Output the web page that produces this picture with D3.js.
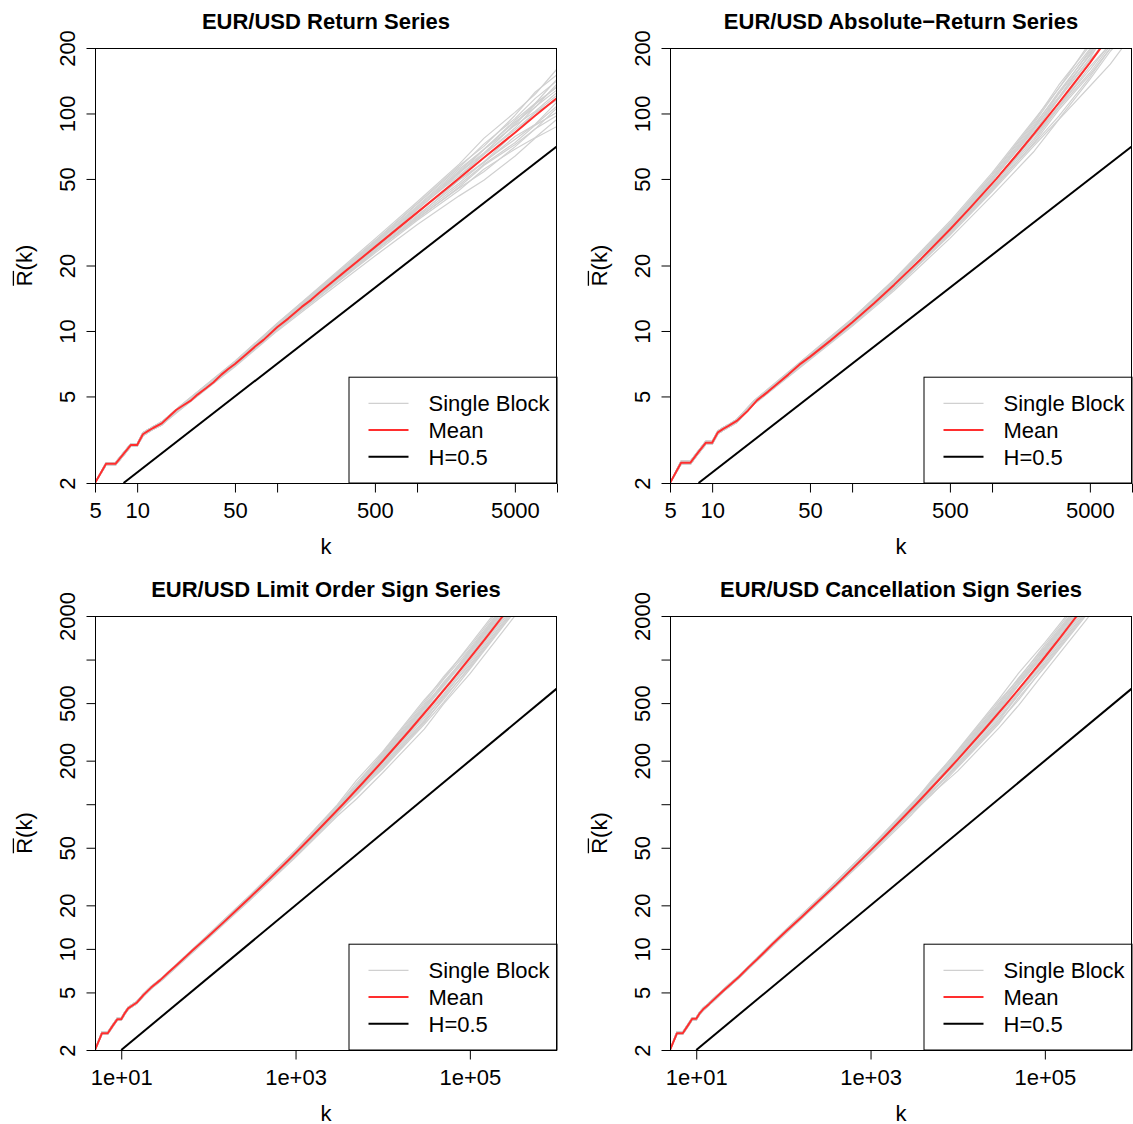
<!DOCTYPE html>
<html>
<head>
<meta charset="utf-8">
<script src="https://cdn.jsdelivr.net/npm/d3@7"></script>
<style>
  body { margin: 0; background: #fff; }
  svg text { font-family: "Liberation Sans", Arial, Helvetica, sans-serif; }
</style>
</head>
<body>
<svg id="chart" width="1133" height="1124"></svg>
<script>
// ---------- Panel titles ----------
const titles = [
  "EUR/USD Return Series",
  "EUR/USD Absolute\u2212Return Series",
  "EUR/USD Limit Order Sign Series",
  "EUR/USD Cancellation Sign Series"
];

// ---------- Axis ticks ----------
const topXTicks = [5, 10, 50, 100, 500, 1000, 5000, 10000];
const topXLabels = ["5", "10", "50", "", "500", "", "5000", ""];
const bottomXTicks = [10, 1000, 100000];
const bottomXLabels = ["1e+01", "1e+03", "1e+05"];
const topYTicks = [2, 5, 10, 20, 50, 100, 200];
const topYLabels = ["2", "5", "10", "20", "50", "100", "200"];
const bottomYTicks = [2, 5, 10, 20, 50, 100, 200, 500, 1000, 2000];
const bottomYLabels = ["2", "5", "10", "20", "50", "", "200", "500", "", "2000"];

// ---------- H=0.5 reference lines ----------
const refTopK = [8, 10000];
const refTopR = [2, 70.7];
const refBottomK = [10, 1000000];
const refBottomR = [2, 632];

// ---------- Mean R/S curves ----------
const returnMeanK = [5,6,7,8,9,10,11,12,13,15,17,19,21,24,27,31,35,40,45,50,60,70,80,100,120,150,175,200,300,500,1000,2000,3000,5000,7000,10000];
const returnMeanR = [2.0,2.45,2.45,2.72,2.99,2.99,3.35,3.47,3.58,3.76,4.05,4.33,4.52,4.77,5.1,5.45,5.8,6.3,6.7,7.05,7.8,8.5,9.1,10.4,11.4,12.9,13.9,15.0,18.6,24.3,35.0,50.4,62.6,81.6,97.8,117.8];

const absMeanK = [5,6,7,8,9,10,11,12,13,15,18,21,25,28,35,42,50,70,100,143,200,312,500,700,1072,1500,2000,2414,3000,4000,5000,5875,8000,10000];
const absMeanR = [2.0,2.48,2.48,2.78,3.06,3.06,3.42,3.55,3.65,3.86,4.3,4.81,5.25,5.59,6.3,7.0,7.6,9.03,10.94,13.39,16.33,21.5,29.3,36.9,50.0,64.6,80.8,93.9,112,142,171,197,257,311];

const limitMeanK = [5,6,7,8,9,10,11,12,15,18,22,28,35,45,66,100,150,205,300,500,850,1500,2500,3500,6000,10000,20000,38700,60000,99400,150000,239500,400000];
const limitMeanR = [2.0,2.61,2.61,2.95,3.26,3.26,3.6,3.88,4.24,4.8,5.4,6.08,6.9,7.9,9.8,12.23,15.31,18.25,22.65,30.45,41.7,58.8,80.9,100,141.8,198.9,319.3,509,699,1017,1391,2000,3008];

const cancelMeanK = [5,6,7,8,9,10,11,12,14,19,25,31,40,50,75,108,160,233,400,820,1500,3326,6000,10090,20000,35400,60000,93000,150000,232700,400000];
const cancelMeanR = [2.0,2.61,2.61,2.95,3.29,3.29,3.6,3.82,4.15,4.93,5.72,6.42,7.48,8.47,10.8,13.3,16.5,20.4,27.7,42.4,61.0,100,145.9,205,326,486,711,985,1418,2000,3098];

// ---------- Single-block curves ----------
// Small-k part: upper and lower edge of the bundle (blocks alternate between them)
const returnHeadK = [5,6,7,8,9,10,11,12,13,15];
const returnHeadUpper = [2,2.48,2.48,2.76,3.03,3.03,3.4,3.52,3.63,3.82];
const returnHeadLower = [2,2.42,2.42,2.68,2.95,2.95,3.3,3.42,3.53,3.7];
const absHeadK = [5,6,7,8,9,10,11,12,13,15];
const absHeadUpper = [2,2.52,2.52,2.82,3.11,3.11,3.47,3.6,3.7,3.92];
const absHeadLower = [2,2.44,2.44,2.74,3.01,3.01,3.37,3.5,3.6,3.8];
const limitHeadK = [5,6,7,8,9,10,11,12,15,18,22];
const limitHeadUpper = [2,2.66,2.66,3.0,3.32,3.32,3.66,3.95,4.32,4.88,5.5];
const limitHeadLower = [2,2.57,2.57,2.9,3.21,3.21,3.54,3.82,4.17,4.72,5.31];
const cancelHeadK = [5,6,7,8,9,10,11,12,14,19,25];
const cancelHeadUpper = [2,2.66,2.66,3.0,3.35,3.35,3.67,3.89,4.23,5.02,5.83];
const cancelHeadLower = [2,2.57,2.57,2.9,3.23,3.23,3.54,3.76,4.08,4.85,5.62];

// Larger-k part of every block
const topTailK = [20,50,100,200,500,1000,2000,3000,5000,7000,10000];
const bottomTailK = [30,100,300,1000,3000,5000,10000,30000,50000,100000,300000,1000000];

const returnBlocks = [
  [4.49,7.26,10.82,15.9,26.5,39.2,58.5,76.8,101.2,122.7,160.2],
  [4.31,6.84,9.98,14.1,22.1,30.8,41.8,49.3,63.6,77.1,87.2],
  [4.44,7.19,10.71,15.75,26.0,38.5,57.5,70.6,97.9,125.5,150.8],
  [4.4,6.98,10.19,14.4,22.8,32.2,44.4,55.4,68.5,77.5,94.2],
  [4.36,7.05,10.5,15.3,25.3,37.1,54.4,68.4,91.4,106.7,136.6],
  [4.36,6.91,10.09,14.7,24.3,36.1,53.4,65.2,89.8,111.5,131.9],
  [4.49,7.19,10.5,14.85,23.6,33.3,46.9,58.3,73.4,88.4,101.3],
  [4.44,7.12,10.61,15.45,24.8,35.0,49.4,59.4,78.3,88.9,108.4],
  [4.4,7.12,10.61,15.6,25.8,38.2,56.4,72.3,94.7,117.3,141.4],
  [4.44,7.05,10.3,14.7,23.3,32.9,45.4,54.0,70.2,85.0,97.8],
  [4.4,7.12,10.4,14.85,24.5,36.1,52.9,68.3,88.1,102.3,124.9],
  [4.31,6.91,10.09,14.4,23.1,33.6,49.4,59.8,81.6,100.9,121.3],
  [4.49,7.26,10.82,15.75,25.5,37.5,55.4,68.3,93.0,111.4,143.7],
  [4.36,6.98,10.19,14.55,23.3,32.6,45.9,57.6,71.8,85.0,106.0],
  [4.44,7.19,10.61,15.45,25.3,36.4,51.9,64.8,85.7,107.4,128.4],
  [4.36,6.91,10.3,15.0,23.8,34.0,47.9,59.9,75.9,89.3,113.1],
  [4.44,7.05,10.5,15.3,25.0,36.8,53.9,65.9,88.9,110.3,133.1],
  [4.4,6.98,10.3,14.7,24.1,34.7,50.9,64.8,84.0,100.9,115.4]
];

const absBlocks = [
  [4.79,7.83,11.38,17.31,31.94,53.31,93.73,130.5,212.0,287,423],
  [4.61,7.37,10.5,15.35,26.66,41.89,67.06,93.7,133.4,168.6,230],
  [4.75,7.75,11.27,17.15,31.35,52.36,92.11,135.2,205.2,277.4,398],
  [4.7,7.52,10.72,15.68,27.54,43.79,71.1,94.1,143.6,193.2,249],
  [4.65,7.6,11.05,16.66,30.47,50.46,87.26,126.0,191.5,252.7,361],
  [4.65,7.45,10.61,16.0,29.3,49.03,85.65,117.7,188.1,261.2,348],
  [4.79,7.75,11.05,16.17,28.42,45.22,75.14,106.3,153.9,205.1,267],
  [4.75,7.68,11.16,16.82,29.89,47.6,79.18,107.1,164.2,208.5,286],
  [4.7,7.68,11.16,16.98,31.06,51.88,90.5,130.7,198.4,274.9,373],
  [4.75,7.6,10.83,16.0,28.13,44.74,72.72,97.3,147.1,199.0,258],
  [4.7,7.68,10.94,16.17,29.59,49.03,84.84,123.3,184.7,239.9,330],
  [4.61,7.45,10.61,15.68,27.84,45.7,79.18,108.0,171.0,236.4,320],
  [4.79,7.83,11.38,17.15,30.77,50.93,88.88,123.3,194.9,261.1,379],
  [4.65,7.52,10.72,15.84,28.13,44.27,73.53,104.0,150.5,199.3,280],
  [4.75,7.75,11.16,16.82,30.47,49.5,83.22,117.0,179.6,251.8,339],
  [4.65,7.45,10.83,16.33,28.71,46.17,76.76,108.1,159.0,209.5,299],
  [4.75,7.6,11.05,16.66,30.18,49.98,86.46,119.1,186.4,258.5,351],
  [4.7,7.52,10.83,16.0,29.01,47.12,81.61,117.0,176.1,225.3,305]
];

const limitBlocks = [
  [6.4,12.57,23.5,48.3,99.0,146.0,230.8,526,740.4,1265,2964,7700],
  [6.14,11.83,21.7,42.9,82.6,108.6,165.1,330,493.9,796,1864,4850],
  [6.33,12.44,23.3,47.9,97.2,135.1,226.9,509,760.7,1224,2868,7450],
  [6.27,12.08,22.1,43.8,85.4,119.3,175.1,356,506.5,857,2008,5220],
  [6.21,12.2,22.8,46.5,94.4,133.8,214.9,475,668.5,1142,2677,6960],
  [6.21,11.96,21.9,44.7,90.8,125.9,210.9,467,697.7,1122,2629,6830],
  [6.4,12.44,22.8,45.1,88.1,123.1,185.1,381,569.9,918,2151,5590],
  [6.33,12.32,23.1,47.0,92.6,123.2,195.0,407,578.8,979,2294,5960],
  [6.27,12.32,23.1,47.4,96.2,140.1,222.8,493,729.1,1183,2772,7200],
  [6.33,12.2,22.4,44.7,87.2,116.0,179.1,365,545.3,877,2055,5340],
  [6.27,12.32,22.6,45.1,91.7,134.0,208.9,458,651.4,1102,2581,6710],
  [6.14,11.96,21.9,43.8,86.3,118.3,195.0,424,627.7,1020,2390,6210],
  [6.4,12.57,23.5,47.9,95.3,132.9,218.8,483,680.3,1163,2725,7080],
  [6.21,12.08,22.1,44.2,87.2,122.5,181.1,373,530.7,898,2103,5470],
  [6.33,12.44,23.1,47.0,94.4,131.2,204.9,446,666.2,1071,2510,6520],
  [6.21,11.96,22.4,45.6,89.0,125.0,189.0,395,555.8,949,2223,5780],
  [6.33,12.2,22.8,46.5,93.5,129.9,212.9,462,684.0,1112,2605,6770],
  [6.27,12.08,22.4,44.7,89.9,129.0,201.0,437,621.5,1051,2462,6400]
];

const cancelBlocks = [
  [6.43,13.09,24.6,50.5,102.1,141.5,236.6,536,805.9,1307,3005,7780],
  [6.17,12.32,22.8,44.8,85.3,117.5,169.3,338,482.9,822,1890,4900],
  [6.36,12.96,24.4,50.0,100.3,146.2,232.6,519,734.7,1265,2908,7540],
  [6.3,12.58,23.2,45.7,88.1,115.6,179.5,363,545.7,885,2035,5280],
  [6.24,12.71,23.9,48.6,97.4,140.5,220.3,484,720.5,1180,2714,7040],
  [6.24,12.45,23.0,46.7,93.7,133.6,216.2,475,672.7,1159,2665,6910],
  [6.43,12.96,23.9,47.1,90.9,121.7,189.7,389,585.0,949,2181,5650],
  [6.36,12.83,24.2,49.1,95.6,134.6,199.9,415,593.7,1012,2326,6030],
  [6.3,12.83,24.2,49.6,99.3,138.6,228.5,502,747.1,1223,2811,7290],
  [6.36,12.71,23.5,46.7,90.0,124.2,183.6,372,526.5,906,2084,5400],
  [6.3,12.83,23.7,47.1,94.6,129.8,214.2,467,701.9,1138,2617,6790],
  [6.17,12.45,23.0,45.7,89.0,129.2,199.9,432,618.1,1054,2423,6280],
  [6.43,13.09,24.6,50.0,98.4,142.4,224.4,493,705.2,1202,2762,7160],
  [6.24,12.58,23.2,46.2,90.0,119.9,185.6,381,572.6,928,2132,5530],
  [6.36,12.96,24.2,49.1,97.4,130.9,210.1,454,676.0,1107,2544,6600],
  [6.24,12.45,23.5,47.6,91.8,128.6,193.8,402,569.2,980,2253,5840],
  [6.36,12.71,23.9,48.6,96.5,140.5,218.2,471,673.9,1149,2641,6850],
  [6.3,12.58,23.5,46.7,92.8,127.6,206.0,445,662.8,1086,2496,6470]
];

// ---------- Legend ----------
const legendLabels = ["Single Block", "Mean", "H=0.5"];

// ---------- Styling ----------
const GREY = "#d0d0d0";
const RED = "#ff2e2e";
const FONT = 22;

// ---------- Panel layout ----------
const topRow = { y0: 48, y1: 483 };
const bottomRow = { y0: 616, y1: 1050 };
const leftCol = { x0: 95, x1: 557 };
const rightCol = { x0: 670, x1: 1132 };

const panels = [
  { title: titles[0], col: leftCol, row: topRow, xDomain: [5, 10000], yDomain: [2, 200],
    xTicks: topXTicks, xLabels: topXLabels, yTicks: topYTicks, yLabels: topYLabels,
    meanK: returnMeanK, meanR: returnMeanR, headK: returnHeadK, headUpper: returnHeadUpper, headLower: returnHeadLower,
    tailK: topTailK, blocks: returnBlocks, refK: refTopK, refR: refTopR },
  { title: titles[1], col: rightCol, row: topRow, xDomain: [5, 10000], yDomain: [2, 200],
    xTicks: topXTicks, xLabels: topXLabels, yTicks: topYTicks, yLabels: topYLabels,
    meanK: absMeanK, meanR: absMeanR, headK: absHeadK, headUpper: absHeadUpper, headLower: absHeadLower,
    tailK: topTailK, blocks: absBlocks, refK: refTopK, refR: refTopR },
  { title: titles[2], col: leftCol, row: bottomRow, xDomain: [5, 1000000], yDomain: [2, 2000],
    xTicks: bottomXTicks, xLabels: bottomXLabels, yTicks: bottomYTicks, yLabels: bottomYLabels,
    meanK: limitMeanK, meanR: limitMeanR, headK: limitHeadK, headUpper: limitHeadUpper, headLower: limitHeadLower,
    tailK: bottomTailK, blocks: limitBlocks, refK: refBottomK, refR: refBottomR },
  { title: titles[3], col: rightCol, row: bottomRow, xDomain: [5, 1000000], yDomain: [2, 2000],
    xTicks: bottomXTicks, xLabels: bottomXLabels, yTicks: bottomYTicks, yLabels: bottomYLabels,
    meanK: cancelMeanK, meanR: cancelMeanR, headK: cancelHeadK, headUpper: cancelHeadUpper, headLower: cancelHeadLower,
    tailK: bottomTailK, blocks: cancelBlocks, refK: refBottomK, refR: refBottomR }
];

const svg = d3.select("#chart");
const defs = svg.append("defs");

panels.forEach((p, i) => {
  const { x0, x1 } = p.col;
  const { y0, y1 } = p.row;
  const x = d3.scaleLog().domain(p.xDomain).range([x0, x1]);
  const y = d3.scaleLog().domain(p.yDomain).range([y1, y0]);
  const line = d3.line().x(d => x(d[0])).y(d => y(d[1]));

  defs.append("clipPath").attr("id", "plot-clip-" + i)
    .append("rect").attr("x", x0).attr("y", y0).attr("width", x1 - x0).attr("height", y1 - y0);

  const g = svg.append("g");
  const plot = g.append("g").attr("clip-path", `url(#plot-clip-${i})`);

  // single-block curves
  p.blocks.forEach((tail, j) => {
    const head = j % 2 === 0 ? p.headUpper : p.headLower;
    const pts = p.headK.map((k, m) => [k, head[m]])
      .concat(p.tailK.map((k, m) => [k, tail[m]]));
    plot.append("path").attr("d", line(pts))
      .attr("fill", "none").attr("stroke", GREY).attr("stroke-width", 1.2)
      .attr("stroke-linejoin", "round");
  });

  // H=0.5 reference
  plot.append("path").attr("d", line(p.refK.map((k, m) => [k, p.refR[m]])))
    .attr("fill", "none").attr("stroke", "#000").attr("stroke-width", 2);

  // mean curve
  plot.append("path").attr("d", line(p.meanK.map((k, m) => [k, p.meanR[m]])))
    .attr("fill", "none").attr("stroke", RED).attr("stroke-width", 2)
    .attr("stroke-linejoin", "round");

  // legend
  const lw = 208.5, lh = 106.3;
  const lx = x1 - lw, ly = y1 - lh;
  const leg = g.append("g");
  leg.append("rect").attr("x", lx + 0.5).attr("y", ly + 0.5).attr("width", lw - 0.5).attr("height", lh - 0.5)
    .attr("fill", "#fff").attr("stroke", "#000").attr("stroke-width", 1);
  const legStyles = [
    { stroke: GREY, w: 1.2 },
    { stroke: RED, w: 2 },
    { stroke: "#000", w: 2 }
  ];
  legendLabels.forEach((lab, r) => {
    const ry = ly + 26.7 * (r + 1);
    leg.append("line").attr("x1", lx + 20).attr("x2", lx + 60).attr("y1", ry).attr("y2", ry)
      .attr("stroke", legStyles[r].stroke).attr("stroke-width", legStyles[r].w);
    leg.append("text").attr("x", lx + 80).attr("y", ry + 7.7)
      .attr("font-size", FONT).attr("fill", "#000").text(lab);
  });

  // box
  g.append("rect").attr("x", x0 + 0.5).attr("y", y0 + 0.5).attr("width", x1 - x0 - 1).attr("height", y1 - y0)
    .attr("fill", "none").attr("stroke", "#000").attr("stroke-width", 1);

  // x axis
  const xa = g.append("g").attr("transform", `translate(0,${y1 + 0.5})`)
    .call(d3.axisBottom(x).tickValues(p.xTicks).tickFormat((d, m) => p.xLabels[m])
      .tickSize(9).tickSizeOuter(0));
  xa.select(".domain").remove();
  xa.selectAll(".tick line").attr("stroke", "#000");
  xa.selectAll(".tick text").attr("y", 34).attr("dy", null)
    .attr("font-size", FONT).attr("fill", "#000");
  xa.attr("font-family", null).attr("font-size", null);

  // y axis
  const ya = g.append("g").attr("transform", `translate(${x0 + 0.5},0)`)
    .call(d3.axisLeft(y).tickValues(p.yTicks).tickFormat((d, m) => p.yLabels[m])
      .tickSize(9).tickSizeOuter(0));
  ya.select(".domain").remove();
  ya.selectAll(".tick line").attr("stroke", "#000");
  ya.selectAll(".tick text")
    .attr("transform", "rotate(-90)")
    .attr("x", 0).attr("y", -20.5).attr("dy", null)
    .attr("text-anchor", "middle")
    .attr("font-size", FONT).attr("fill", "#000");
  ya.attr("font-family", null).attr("font-size", null);

  // title
  g.append("text").attr("x", (x0 + x1) / 2).attr("y", y0 - 19.5)
    .attr("text-anchor", "middle").attr("font-size", FONT).attr("font-weight", "bold")
    .attr("fill", "#000").text(p.title);

  // x title
  g.append("text").attr("x", (x0 + x1) / 2).attr("y", y1 + 70.5)
    .attr("text-anchor", "middle").attr("font-size", FONT).attr("fill", "#000").text("k");

  // y title: R with an overbar, followed by (k)
  const yt = g.append("g").attr("transform", `translate(${x0 - 63},${(y0 + y1) / 2}) rotate(-90)`);
  const ytText = yt.append("text").attr("x", 0).attr("y", 0)
    .attr("text-anchor", "middle").attr("font-size", FONT).attr("fill", "#000").text("R(k)");
  const node = ytText.node();
  const total = node.getComputedTextLength();
  const rW = node.getSubStringLength(0, 1);
  yt.append("line").attr("x1", -total / 2 + 0.5).attr("x2", -total / 2 + rW - 0.5)
    .attr("y1", -18.6).attr("y2", -18.6).attr("stroke", "#000").attr("stroke-width", 1.3);
});
</script>
</body>
</html>
